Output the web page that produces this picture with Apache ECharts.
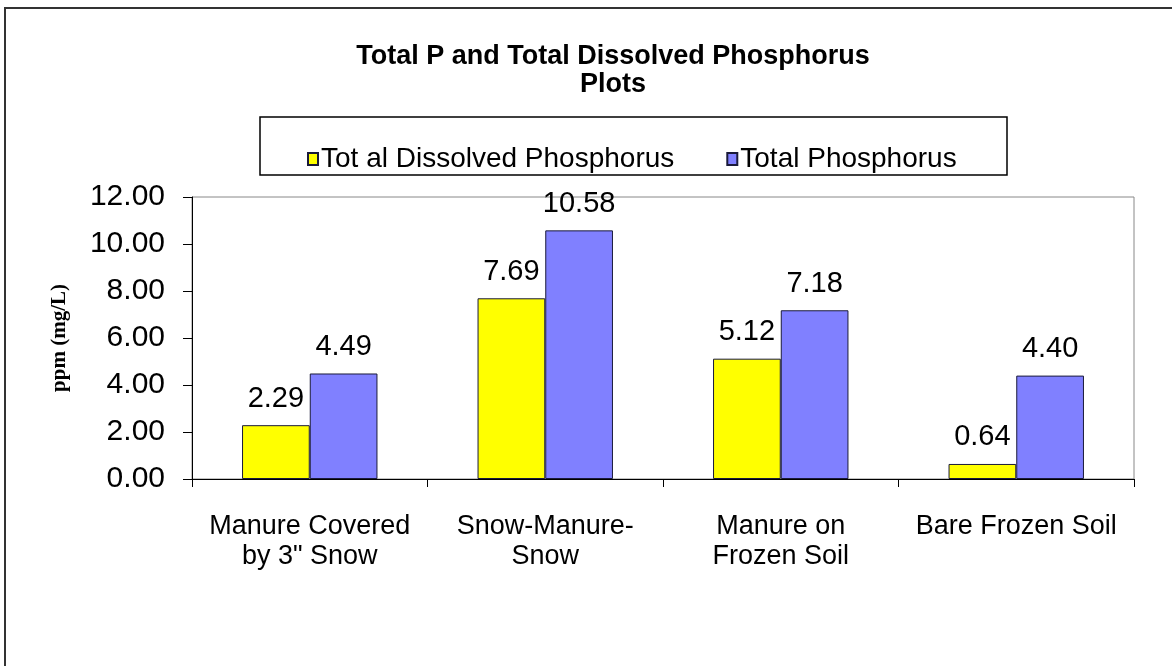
<!DOCTYPE html>
<html>
<head>
<meta charset="utf-8">
<script src="https://cdn.jsdelivr.net/npm/echarts@6/dist/echarts.min.js"></script>
<style>
  html, body { margin: 0; padding: 0; background: #fff; }
  #grafica { width: 1172px; height: 666px; }
</style>
</head>
<body>
<div id="grafica"></div>
<script>
const categories = [
  "Manure Covered\nby 3\" Snow",
  "Snow-Manure-\nSnow",
  "Manure on\nFrozen Soil",
  "Bare Frozen Soil",
];
const dissolvedP = [2.29, 7.69, 5.12, 0.64];
const totalP = [4.49, 10.58, 7.18, 4.4];
const seriesNames = ["Tot al Dissolved Phosphorus", "Total Phosphorus"];

const fuente = "Liberation Sans, Arial, sans-serif";

const etiqueta = {
  show: true,
  position: "top",
  distance: 12,
  fontFamily: fuente,
  fontSize: 29,
  color: "#000",
  formatter: (p) => p.value.toFixed(2),
};

const option = {
  animation: false,
  backgroundColor: "#fff",
  title: {
    text: "Total P and Total Dissolved Phosphorus\nPlots",
    left: 608,
    textAlign: "center",
    top: 38,
    textStyle: {
      fontFamily: fuente,
      fontWeight: "bold",
      fontSize: 27,
      lineHeight: 28,
      color: "#000",
    },
  },
  graphic: [
    // marco exterior (solo se ven izquierda y arriba)
    {
      type: "rect",
      shape: { x: 5, y: 8, width: 1250, height: 750 },
      style: { fill: "none", stroke: "#333", lineWidth: 2 },
      silent: true,
    },
    // caja de la leyenda
    {
      type: "rect",
      shape: { x: 260, y: 117, width: 747, height: 58 },
      style: { fill: "none", stroke: "#000", lineWidth: 1.5 },
      silent: true,
    },
  ],
  legend: {
    left: 302,
    top: 140,
    icon: "rect",
    itemWidth: 10,
    itemHeight: 12,
    itemGap: 52,
    data: seriesNames,
    textStyle: {
      fontFamily: fuente,
      fontSize: 28,
      color: "#000",
      padding: [0, 0, 0, -2],
    },
  },
  grid: {
    left: 192,
    right: 38,
    top: 197,
    bottom: 187,
    show: true,
    borderColor: "#888",
    borderWidth: 1,
  },
  xAxis: {
    type: "category",
    data: categories,
    axisLine: { lineStyle: { color: "#000", width: 1 } },
    axisTick: { show: true, length: 8, lineStyle: { color: "#000" } },
    axisLabel: {
      fontFamily: fuente,
      fontSize: 27,
      lineHeight: 30,
      color: "#000",
      margin: 33,
      interval: 0,
    },
  },
  yAxis: {
    type: "value",
    min: 0,
    max: 12,
    interval: 2,
    name: "ppm (mg/L)",
    nameLocation: "middle",
    nameGap: 122,
    nameRotate: 90,
    nameTextStyle: {
      fontFamily: "Liberation Serif, Times New Roman, serif",
      fontWeight: "bold",
      fontSize: 21,
      color: "#000",
    },
    axisLine: { show: true, lineStyle: { color: "#000", width: 1 } },
    axisTick: { show: true, length: 9, lineStyle: { color: "#000" } },
    splitLine: { show: false },
    axisLabel: {
      fontFamily: fuente,
      fontSize: 30,
      color: "#000",
      margin: 27,
      formatter: (v) => v.toFixed(2),
    },
  },
  series: [
    {
      name: seriesNames[0],
      type: "bar",
      data: dissolvedP,
      barGap: "0%",
      barCategoryGap: "42.5%",
      itemStyle: { color: "#FFFF00", borderColor: "#1a1a3a", borderWidth: 1 },
      label: etiqueta,
    },
    {
      name: seriesNames[1],
      type: "bar",
      data: totalP,
      barGap: "0%",
      barCategoryGap: "42.5%",
      itemStyle: { color: "#8080FF", borderColor: "#1a1a3a", borderWidth: 1 },
      label: etiqueta,
    },
  ],
};

const createEcharts = () => {
  let myChart = echarts.init(document.querySelector("#grafica"));
  myChart.setOption(option);
};

window.addEventListener("DOMContentLoaded", () => {
  createEcharts();
});
</script>
</body>
</html>
